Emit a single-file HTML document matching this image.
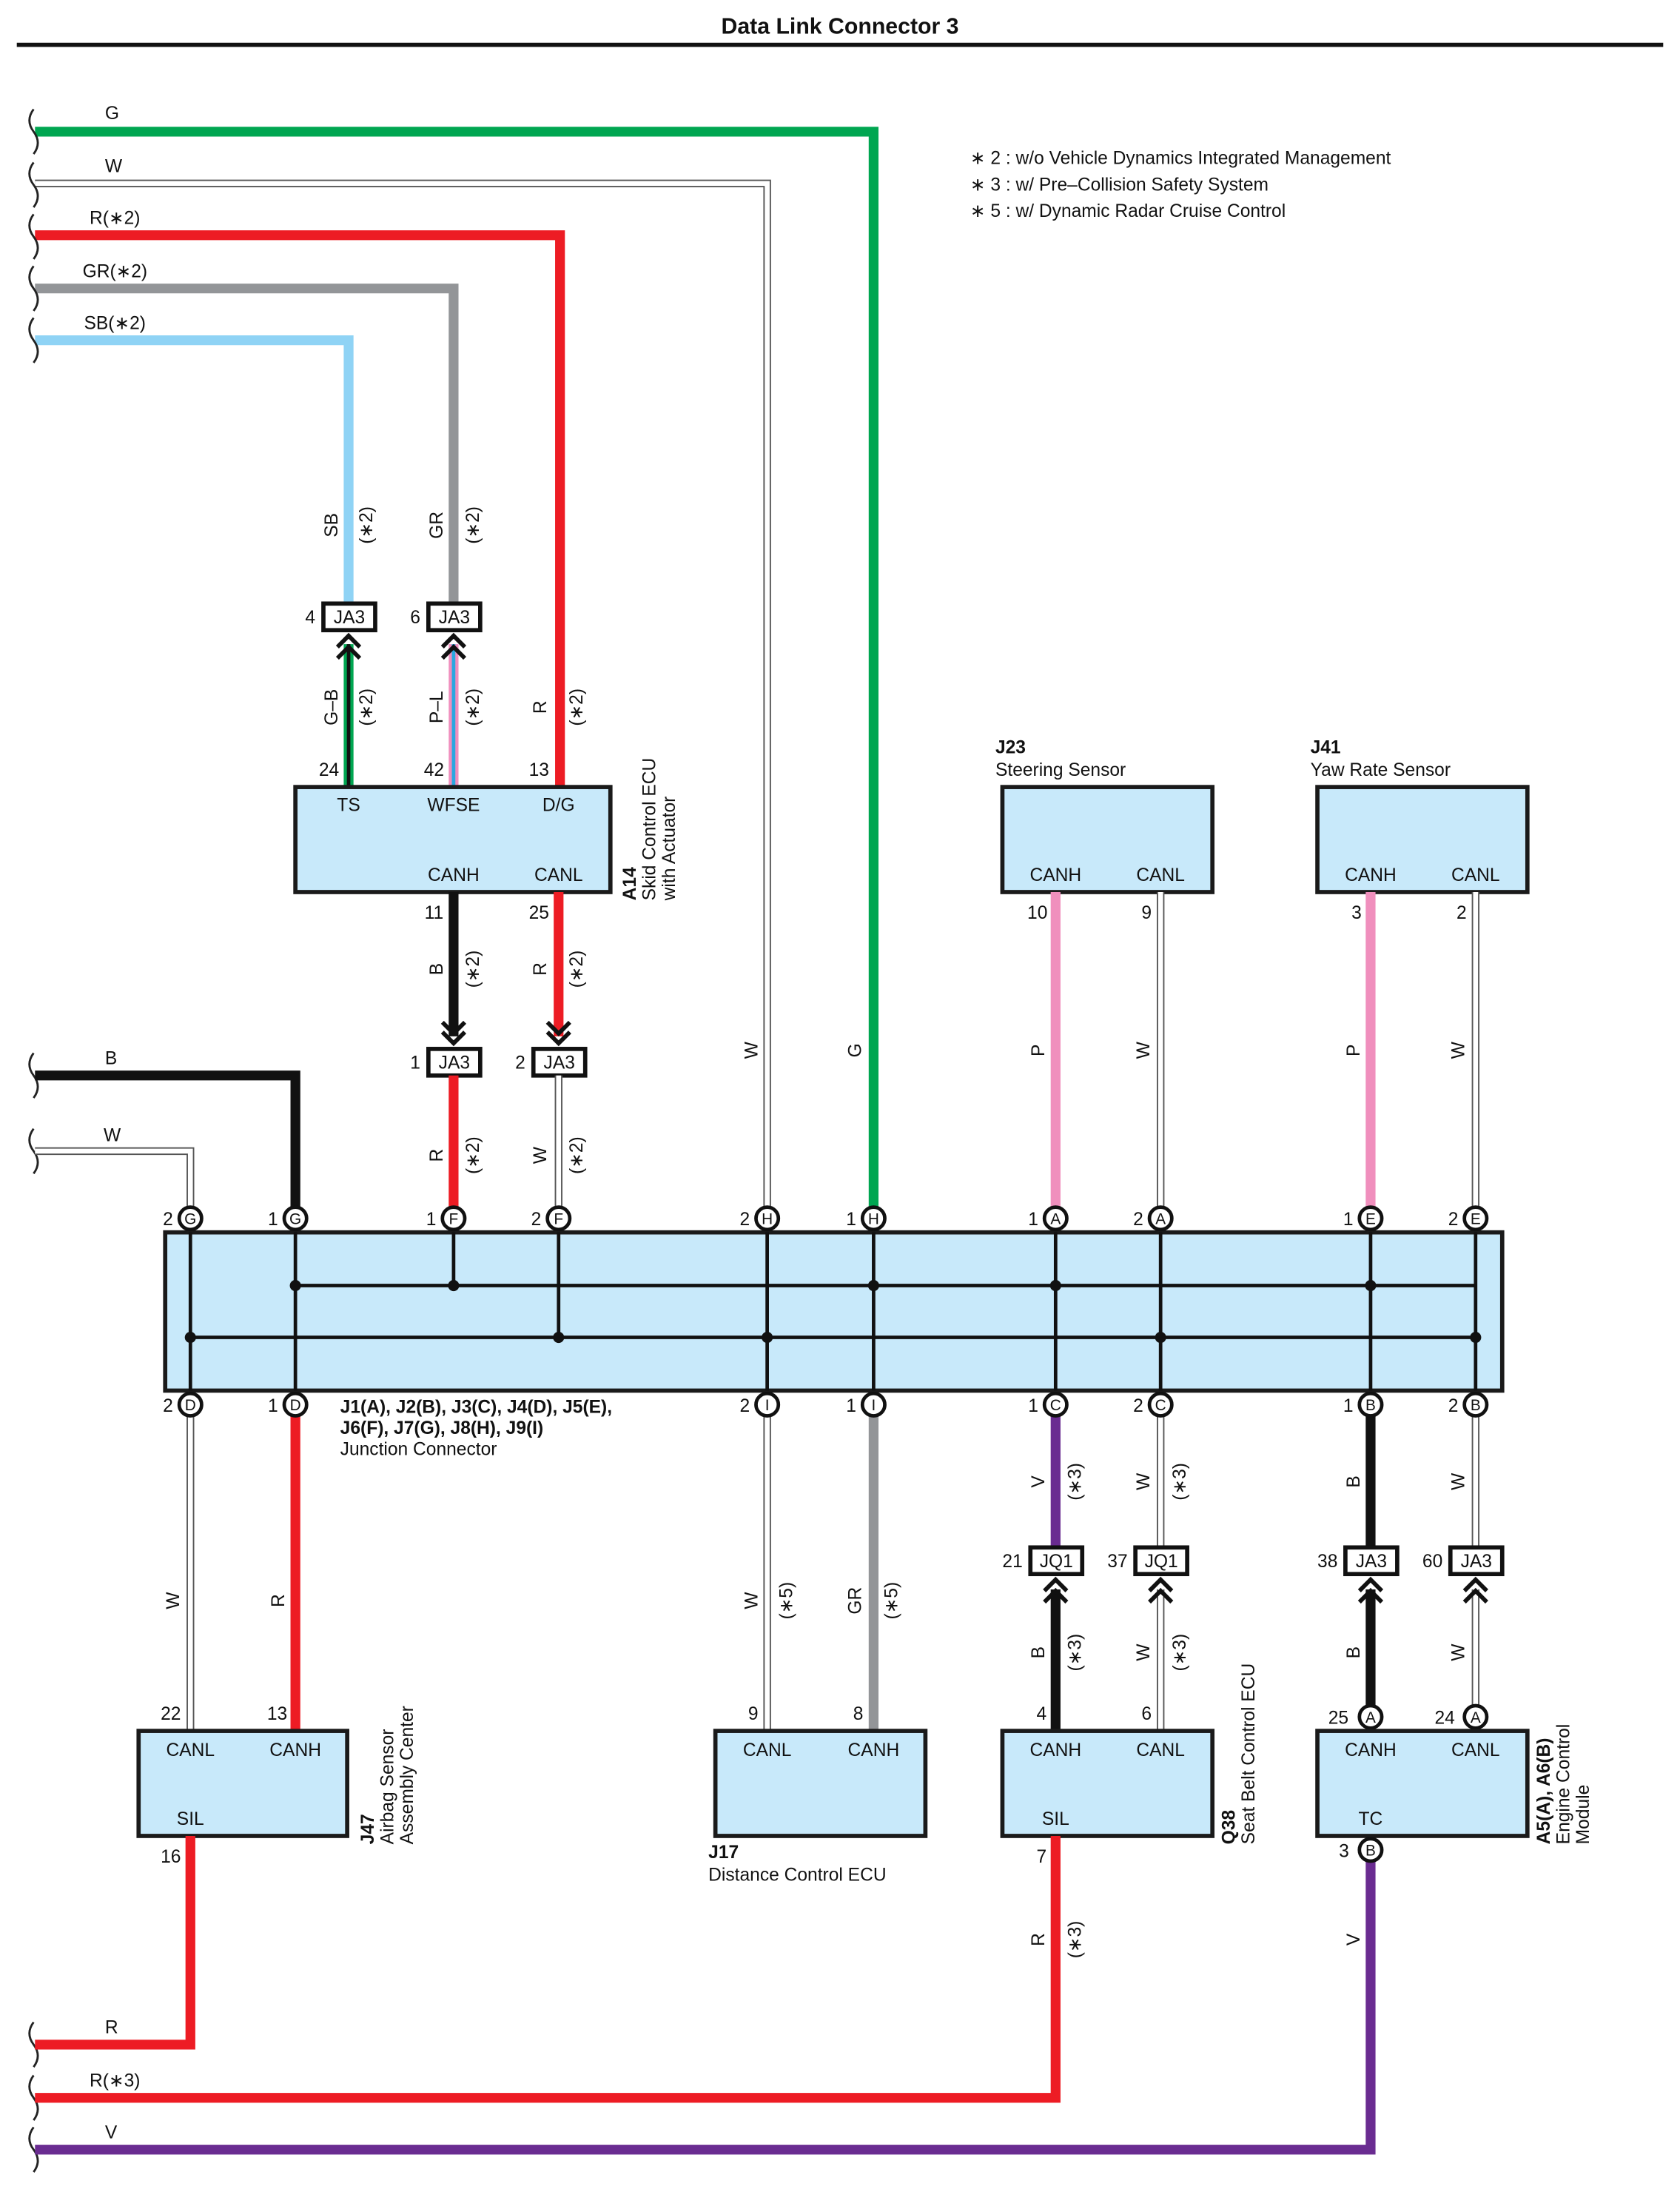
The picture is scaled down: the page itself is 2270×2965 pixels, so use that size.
<!DOCTYPE html>
<html><head><meta charset="utf-8"><style>
html,body{margin:0;padding:0;background:#fff}
svg{display:block}
text{font-family:"Liberation Sans",sans-serif;font-size:13px;fill:#111}
.b{font-weight:bold}
.m{text-anchor:middle}
.box{fill:#c8e9fa;stroke:#1a1a1a;stroke-width:3}
.tw1{fill:none;stroke:#555;stroke-width:5.5}
.tw2{fill:none;stroke:#fff;stroke-width:3.5}
.ch{fill:none;stroke:#111;stroke-width:3}
.cc{fill:#fff;stroke:#111;stroke-width:2.5}
.ct{font-size:11px;text-anchor:middle}
.jb{fill:#fff;stroke:#111;stroke-width:3}
.wv{fill:none;stroke:#222;stroke-width:1.5}
</style></head><body>
<svg width="2270" height="2965" viewBox="0 0 1200 1567.4" preserveAspectRatio="none" xmlns="http://www.w3.org/2000/svg">
<text x="600" y="24" class="b m" style="font-size:16px">Data Link Connector 3</text>
<line x1="12" y1="32" x2="1188" y2="32" stroke="#111" stroke-width="3"/>

<text x="693" y="117">∗ 2 : w/o Vehicle Dynamics Integrated Management</text>
<text x="693" y="136">∗ 3 : w/ Pre–Collision Safety System</text>
<text x="693" y="155">∗ 5 : w/ Dynamic Radar Cruise Control</text>

<!-- top wires -->
<path d="M25,94 H624 V862" fill="none" stroke="#00a651" stroke-width="7"/>
<path d="M25,131 H548 V862" class="tw1"/><path d="M25,131 H548 V862" class="tw2"/>
<path d="M25,168 H400 V562" fill="none" stroke="#ed1c24" stroke-width="7"/>
<path d="M25,206 H324 V432" fill="none" stroke="#939598" stroke-width="7"/>
<path d="M25,243 H249 V432" fill="none" stroke="#8fd3f5" stroke-width="7"/>
<text x="75" y="85">G</text><text x="75" y="123">W</text><text x="64" y="160">R(∗2)</text><text x="59" y="198">GR(∗2)</text><text x="60" y="235">SB(∗2)</text>

<!-- wave breaks -->
<g class="wv">
<path d="M24,78 q-6,8 0,16 q6,8 0,16"/><path d="M24,116 q-6,8 0,16 q6,8 0,16"/><path d="M24,153 q-6,8 0,16 q6,8 0,16"/>
<path d="M24,190 q-6,8 0,16 q6,8 0,16"/><path d="M24,227 q-6,8 0,16 q6,8 0,16"/>
<path d="M24,752 q-6,8 0,16 q6,8 0,16"/><path d="M24,806 q-6,8 0,16 q6,8 0,16"/>
<path d="M24,1444 q-6,8 0,16 q6,8 0,16"/><path d="M24,1482 q-6,8 0,16 q6,8 0,16"/><path d="M24,1519 q-6,8 0,16 q6,8 0,16"/>
</g>

<!-- rotated labels top -->
<text transform="translate(241,375) rotate(-90)" class="m">SB</text><text transform="translate(266,375) rotate(-90)" class="m">(∗2)</text>
<text transform="translate(316,375) rotate(-90)" class="m">GR</text><text transform="translate(342,375) rotate(-90)" class="m">(∗2)</text>

<!-- JA3 top -->
<rect x="231" y="431" width="37" height="19" class="jb"/><text x="249.5" y="445" class="m">JA3</text><text x="218" y="445">4</text>
<rect x="306" y="431" width="37" height="19" class="jb"/><text x="324.5" y="445" class="m">JA3</text><text x="293" y="445">6</text>
<!-- G-B / P-L wires -->
<line x1="249" y1="460" x2="249" y2="562" stroke="#00a651" stroke-width="7"/><line x1="249" y1="460" x2="249" y2="562" stroke="#111" stroke-width="2.5"/>
<line x1="324" y1="460" x2="324" y2="562" stroke="#f08fbd" stroke-width="7"/><line x1="324" y1="460" x2="324" y2="562" stroke="#2aa7e0" stroke-width="2.5"/>
<path d="M241,462 L249,454 L257,462 M241,470 L249,462 L257,470" class="ch"/>
<path d="M316,462 L324,454 L332,462 M316,470 L324,462 L332,470" class="ch"/>
<text transform="translate(241,505) rotate(-90)" class="m">G–B</text><text transform="translate(266,505) rotate(-90)" class="m">(∗2)</text>
<text transform="translate(316,505) rotate(-90)" class="m">P–L</text><text transform="translate(342,505) rotate(-90)" class="m">(∗2)</text>
<text transform="translate(390,505) rotate(-90)" class="m">R</text><text transform="translate(416,505) rotate(-90)" class="m">(∗2)</text>
<text x="235" y="554" class="m">24</text><text x="310" y="554" class="m">42</text><text x="385" y="554" class="m">13</text>

<!-- A14 -->
<rect x="211" y="562" width="225" height="75" class="box"/>
<text x="249" y="579" class="m">TS</text><text x="324" y="579" class="m">WFSE</text><text x="399" y="579" class="m">D/G</text>
<text x="324" y="629" class="m">CANH</text><text x="399" y="629" class="m">CANL</text>
<text transform="translate(454,643) rotate(-90)" class="b">A14</text>
<text transform="translate(468,643) rotate(-90)">Skid Control ECU</text>
<text transform="translate(482,643) rotate(-90)">with Actuator</text>

<line x1="324" y1="637" x2="324" y2="740" stroke="#111" stroke-width="7"/>
<line x1="399" y1="637" x2="399" y2="740" stroke="#ed1c24" stroke-width="7"/>
<path d="M316,730 L324,738 L332,730 M316,737 L324,745 L332,737" class="ch"/>
<path d="M391,730 L399,738 L407,730 M391,737 L399,745 L407,737" class="ch"/>
<text x="310" y="656" class="m">11</text><text x="385" y="656" class="m">25</text>
<text transform="translate(316,692) rotate(-90)" class="m">B</text><text transform="translate(342,692) rotate(-90)" class="m">(∗2)</text>
<text transform="translate(390,692) rotate(-90)" class="m">R</text><text transform="translate(416,692) rotate(-90)" class="m">(∗2)</text>
<rect x="306" y="749" width="37" height="19" class="jb"/><text x="324.5" y="763" class="m">JA3</text><text x="293" y="763">1</text>
<rect x="381" y="749" width="37" height="19" class="jb"/><text x="399.5" y="763" class="m">JA3</text><text x="368" y="763">2</text>
<line x1="324" y1="768" x2="324" y2="862" stroke="#ed1c24" stroke-width="7"/>
<path d="M399,768 V862" class="tw1"/><path d="M399,768 V862" class="tw2"/>
<text transform="translate(316,825) rotate(-90)" class="m">R</text><text transform="translate(342,825) rotate(-90)" class="m">(∗2)</text>
<text transform="translate(390,825) rotate(-90)" class="m">W</text><text transform="translate(416,825) rotate(-90)" class="m">(∗2)</text>

<!-- left B and W -->
<path d="M25,768 H211 V862" fill="none" stroke="#111" stroke-width="7"/>
<path d="M25,822 H136 V862" class="tw1"/><path d="M25,822 H136 V862" class="tw2"/>
<text x="75" y="760">B</text><text x="74" y="815">W</text>

<!-- J23, J41 -->
<text x="711" y="538" class="b">J23</text><text x="711" y="554">Steering Sensor</text>
<rect x="716" y="562" width="150" height="75" class="box"/>
<text x="754" y="629" class="m">CANH</text><text x="829" y="629" class="m">CANL</text>
<text x="741" y="656" class="m">10</text><text x="819" y="656" class="m">9</text>
<line x1="754" y1="637" x2="754" y2="862" stroke="#f08fbd" stroke-width="7"/>
<path d="M829,637 V862" class="tw1"/><path d="M829,637 V862" class="tw2"/>
<text transform="translate(746,750) rotate(-90)" class="m">P</text><text transform="translate(821,750) rotate(-90)" class="m">W</text>

<text x="936" y="538" class="b">J41</text><text x="936" y="554">Yaw Rate Sensor</text>
<rect x="941" y="562" width="150" height="75" class="box"/>
<text x="979" y="629" class="m">CANH</text><text x="1054" y="629" class="m">CANL</text>
<text x="969" y="656" class="m">3</text><text x="1044" y="656" class="m">2</text>
<line x1="979" y1="637" x2="979" y2="862" stroke="#f08fbd" stroke-width="7"/>
<path d="M1054,637 V862" class="tw1"/><path d="M1054,637 V862" class="tw2"/>
<text transform="translate(971,750) rotate(-90)" class="m">P</text><text transform="translate(1046,750) rotate(-90)" class="m">W</text>
<text transform="translate(541,750) rotate(-90)" class="m">W</text><text transform="translate(615,750) rotate(-90)" class="m">G</text>

<!-- junction box -->
<rect x="118" y="880" width="955" height="113" class="box"/>
<g stroke="#111" stroke-width="2.5">
<line x1="211" y1="918" x2="1054" y2="918"/><line x1="136" y1="955" x2="1054" y2="955"/>
<line x1="136" y1="880" x2="136" y2="993"/><line x1="211" y1="880" x2="211" y2="993"/>
<line x1="324" y1="880" x2="324" y2="918"/><line x1="399" y1="880" x2="399" y2="955"/>
<line x1="548" y1="880" x2="548" y2="993"/><line x1="624" y1="880" x2="624" y2="993"/>
<line x1="754" y1="880" x2="754" y2="993"/><line x1="829" y1="880" x2="829" y2="993"/>
<line x1="979" y1="880" x2="979" y2="993"/><line x1="1054" y1="880" x2="1054" y2="993"/>
</g>
<g fill="#111">
<circle cx="211" cy="918" r="4"/><circle cx="324" cy="918" r="4"/><circle cx="624" cy="918" r="4"/><circle cx="754" cy="918" r="4"/><circle cx="979" cy="918" r="4"/>
<circle cx="136" cy="955" r="4"/><circle cx="399" cy="955" r="4"/><circle cx="548" cy="955" r="4"/><circle cx="829" cy="955" r="4"/><circle cx="1054" cy="955" r="4"/>
</g>
<!-- top circles -->
<g>
<circle cx="136" cy="870" r="8" class="cc"/><text x="136" y="874" class="ct">G</text><text x="120" y="875" class="m">2</text>
<circle cx="211" cy="870" r="8" class="cc"/><text x="211" y="874" class="ct">G</text><text x="195" y="875" class="m">1</text>
<circle cx="324" cy="870" r="8" class="cc"/><text x="324" y="874" class="ct">F</text><text x="308" y="875" class="m">1</text>
<circle cx="399" cy="870" r="8" class="cc"/><text x="399" y="874" class="ct">F</text><text x="383" y="875" class="m">2</text>
<circle cx="548" cy="870" r="8" class="cc"/><text x="548" y="874" class="ct">H</text><text x="532" y="875" class="m">2</text>
<circle cx="624" cy="870" r="8" class="cc"/><text x="624" y="874" class="ct">H</text><text x="608" y="875" class="m">1</text>
<circle cx="754" cy="870" r="8" class="cc"/><text x="754" y="874" class="ct">A</text><text x="738" y="875" class="m">1</text>
<circle cx="829" cy="870" r="8" class="cc"/><text x="829" y="874" class="ct">A</text><text x="813" y="875" class="m">2</text>
<circle cx="979" cy="870" r="8" class="cc"/><text x="979" y="874" class="ct">E</text><text x="963" y="875" class="m">1</text>
<circle cx="1054" cy="870" r="8" class="cc"/><text x="1054" y="874" class="ct">E</text><text x="1038" y="875" class="m">2</text>
</g>

<!-- bottom wires -->
<path d="M136,1011 V1236" class="tw1"/><path d="M136,1011 V1236" class="tw2"/>
<line x1="211" y1="1011" x2="211" y2="1236" stroke="#ed1c24" stroke-width="7"/>
<path d="M548,1011 V1236" class="tw1"/><path d="M548,1011 V1236" class="tw2"/>
<line x1="624" y1="1011" x2="624" y2="1236" stroke="#939598" stroke-width="7"/>
<line x1="754" y1="1011" x2="754" y2="1105" stroke="#6a2c91" stroke-width="7"/>
<path d="M829,1011 V1105" class="tw1"/><path d="M829,1011 V1105" class="tw2"/>
<line x1="979" y1="1011" x2="979" y2="1105" stroke="#111" stroke-width="7"/>
<path d="M1054,1011 V1105" class="tw1"/><path d="M1054,1011 V1105" class="tw2"/>

<g>
<circle cx="136" cy="1003" r="8" class="cc"/><text x="136" y="1007" class="ct">D</text><text x="120" y="1008" class="m">2</text>
<circle cx="211" cy="1003" r="8" class="cc"/><text x="211" y="1007" class="ct">D</text><text x="195" y="1008" class="m">1</text>
<circle cx="548" cy="1003" r="8" class="cc"/><text x="548" y="1007" class="ct">I</text><text x="532" y="1008" class="m">2</text>
<circle cx="624" cy="1003" r="8" class="cc"/><text x="624" y="1007" class="ct">I</text><text x="608" y="1008" class="m">1</text>
<circle cx="754" cy="1003" r="8" class="cc"/><text x="754" y="1007" class="ct">C</text><text x="738" y="1008" class="m">1</text>
<circle cx="829" cy="1003" r="8" class="cc"/><text x="829" y="1007" class="ct">C</text><text x="813" y="1008" class="m">2</text>
<circle cx="979" cy="1003" r="8" class="cc"/><text x="979" y="1007" class="ct">B</text><text x="963" y="1008" class="m">1</text>
<circle cx="1054" cy="1003" r="8" class="cc"/><text x="1054" y="1007" class="ct">B</text><text x="1038" y="1008" class="m">2</text>
</g>
<text x="243" y="1009" class="b">J1(A), J2(B), J3(C), J4(D), J5(E),</text>
<text x="243" y="1024" class="b">J6(F), J7(G), J8(H), J9(I)</text>
<text x="243" y="1039">Junction Connector</text>

<!-- airbag -->
<text transform="translate(128,1143) rotate(-90)" class="m">W</text><text transform="translate(203,1143) rotate(-90)" class="m">R</text>
<text x="122" y="1228" class="m">22</text><text x="198" y="1228" class="m">13</text>
<rect x="99" y="1236" width="149" height="75" class="box"/>
<text x="136" y="1254" class="m">CANL</text><text x="211" y="1254" class="m">CANH</text><text x="136" y="1303" class="m">SIL</text>
<text transform="translate(267,1317) rotate(-90)" class="b">J47</text>
<text transform="translate(281,1317) rotate(-90)">Airbag Sensor</text>
<text transform="translate(295,1317) rotate(-90)">Assembly Center</text>
<text x="122" y="1330" class="m">16</text>
<path d="M25,1460 H136 V1311" fill="none" stroke="#ed1c24" stroke-width="7"/>
<text x="75" y="1452">R</text>

<!-- J17 -->
<text transform="translate(541,1143) rotate(-90)" class="m">W</text><text transform="translate(566,1143) rotate(-90)" class="m">(∗5)</text>
<text transform="translate(615,1143) rotate(-90)" class="m">GR</text><text transform="translate(641,1143) rotate(-90)" class="m">(∗5)</text>
<text x="538" y="1228" class="m">9</text><text x="613" y="1228" class="m">8</text>
<rect x="511" y="1236" width="150" height="75" class="box"/>
<text x="548" y="1254" class="m">CANL</text><text x="624" y="1254" class="m">CANH</text>
<text x="506" y="1327" class="b">J17</text><text x="506" y="1343">Distance Control ECU</text>

<!-- Q38 -->
<text transform="translate(746,1058) rotate(-90)" class="m">V</text><text transform="translate(772,1058) rotate(-90)" class="m">(∗3)</text>
<text transform="translate(821,1058) rotate(-90)" class="m">W</text><text transform="translate(847,1058) rotate(-90)" class="m">(∗3)</text>
<rect x="736" y="1105" width="37" height="19" class="jb"/><text x="754.5" y="1119" class="m">JQ1</text><text x="716" y="1119">21</text>
<rect x="811" y="1105" width="37" height="19" class="jb"/><text x="829.5" y="1119" class="m">JQ1</text><text x="791" y="1119">37</text>
<line x1="754" y1="1135" x2="754" y2="1236" stroke="#111" stroke-width="7"/>
<path d="M829,1135 V1236" class="tw1"/><path d="M829,1135 V1236" class="tw2"/>
<path d="M746,1136 L754,1128 L762,1136 M746,1144 L754,1136 L762,1144" class="ch"/>
<path d="M821,1136 L829,1128 L837,1136 M821,1144 L829,1136 L837,1144" class="ch"/>
<text transform="translate(746,1180) rotate(-90)" class="m">B</text><text transform="translate(772,1180) rotate(-90)" class="m">(∗3)</text>
<text transform="translate(821,1180) rotate(-90)" class="m">W</text><text transform="translate(847,1180) rotate(-90)" class="m">(∗3)</text>
<text x="744" y="1228" class="m">4</text><text x="819" y="1228" class="m">6</text>
<rect x="716" y="1236" width="150" height="75" class="box"/>
<text x="754" y="1254" class="m">CANH</text><text x="829" y="1254" class="m">CANL</text><text x="754" y="1303" class="m">SIL</text>
<text transform="translate(882,1317) rotate(-90)" class="b">Q38</text>
<text transform="translate(896,1317) rotate(-90)">Seat Belt Control ECU</text>
<text x="744" y="1330" class="m">7</text>
<path d="M25,1498 H754 V1311" fill="none" stroke="#ed1c24" stroke-width="7"/>
<text transform="translate(746,1385) rotate(-90)" class="m">R</text><text transform="translate(772,1385) rotate(-90)" class="m">(∗3)</text>
<text x="64" y="1490">R(∗3)</text>

<!-- Engine -->
<text transform="translate(971,1058) rotate(-90)" class="m">B</text><text transform="translate(1046,1058) rotate(-90)" class="m">W</text>
<rect x="961" y="1105" width="37" height="19" class="jb"/><text x="979.5" y="1119" class="m">JA3</text><text x="941" y="1119">38</text>
<rect x="1036" y="1105" width="37" height="19" class="jb"/><text x="1054.5" y="1119" class="m">JA3</text><text x="1016" y="1119">60</text>
<line x1="979" y1="1135" x2="979" y2="1218" stroke="#111" stroke-width="7"/>
<path d="M1054,1135 V1218" class="tw1"/><path d="M1054,1135 V1218" class="tw2"/>
<path d="M971,1136 L979,1128 L987,1136 M971,1144 L979,1136 L987,1144" class="ch"/>
<path d="M1046,1136 L1054,1128 L1062,1136 M1046,1144 L1054,1136 L1062,1144" class="ch"/>
<text transform="translate(971,1180) rotate(-90)" class="m">B</text><text transform="translate(1046,1180) rotate(-90)" class="m">W</text>
<circle cx="979" cy="1226" r="8" class="cc"/><text x="979" y="1230" class="ct">A</text><text x="956" y="1231" class="m">25</text>
<circle cx="1054" cy="1226" r="8" class="cc"/><text x="1054" y="1230" class="ct">A</text><text x="1032" y="1231" class="m">24</text>
<rect x="941" y="1236" width="150" height="75" class="box"/>
<text x="979" y="1254" class="m">CANH</text><text x="1054" y="1254" class="m">CANL</text><text x="979" y="1303" class="m">TC</text>
<text transform="translate(1107,1317) rotate(-90)" class="b">A5(A), A6(B)</text>
<text transform="translate(1121,1317) rotate(-90)">Engine Control</text>
<text transform="translate(1135,1317) rotate(-90)">Module</text>
<path d="M25,1535 H979 V1329" fill="none" stroke="#6a2c91" stroke-width="7"/>
<circle cx="979" cy="1321" r="8" class="cc"/><text x="979" y="1325" class="ct">B</text><text x="960" y="1326" class="m">3</text>
<text transform="translate(971,1385) rotate(-90)" class="m">V</text>
<text x="75" y="1527">V</text>
</svg>
</body></html>
